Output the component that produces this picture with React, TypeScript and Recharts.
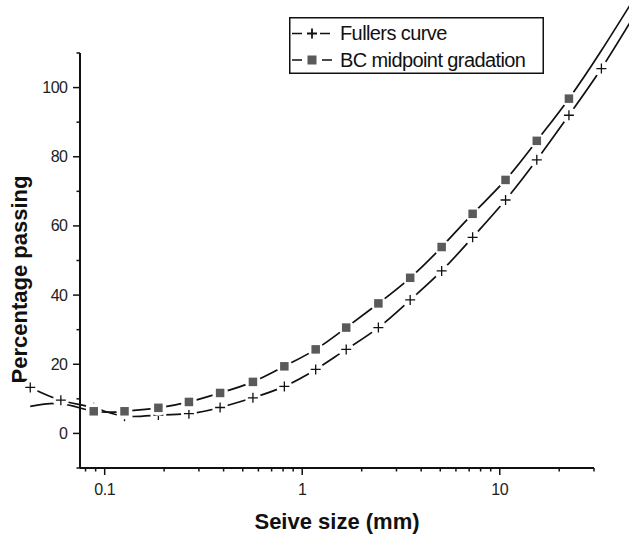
import { LineChart, Line, XAxis, YAxis, Legend, Label } from 'recharts';

// sieve sizes (mm)
const sieveSizes = [0.042, 0.06, 0.088, 0.126, 0.187, 0.267, 0.384, 0.563, 0.812, 1.17, 1.67, 2.43, 3.52, 5.08, 7.29, 10.7, 15.4, 22.4, 32.7, 47];
const fullersCurve = [13.3, 9.6, 7.4, 5.0, 5.3, 5.7, 7.5, 10.3, 13.6, 18.5, 24.3, 30.6, 38.6, 47.0, 56.7, 67.5, 79.1, 92.0, 105.5, 120];
const bcMidpoint = [7.8, 8.6, 6.4, 6.4, 7.4, 9.1, 11.7, 14.9, 19.4, 24.3, 30.6, 37.6, 45.0, 53.9, 63.5, 73.3, 84.6, 96.8, 110.7, 125];
// which points carry a marker (the rest only continue the curve)
const fullersMarked = [true, true, true, true, true, true, true, true, true, true, true, true, true, true, true, true, true, true, true, false];
const bcMarked = [false, false, true, true, true, true, true, true, true, true, true, true, true, true, true, true, true, true, false, false];

const seriesNames = ['Fullers curve', 'BC midpoint gradation'];
const majorXTicks = [0.1, 1, 10];
const xTicks = [0.08, 0.09, 0.1, 0.2, 0.3, 0.4, 0.5, 0.6, 0.7, 0.8, 0.9, 1, 2, 3, 4, 5, 6, 7, 8, 9, 10, 20, 30];
const yTicks = [-10, 0, 10, 20, 30, 40, 50, 60, 70, 80, 90, 100, 110];

const fullersData = sieveSizes.map((x, i) => ({ x, y: fullersCurve[i], marked: fullersMarked[i] }));
const bcData = sieveSizes.map((x, i) => ({ x, y: bcMidpoint[i], marked: bcMarked[i] }));

const FONT = "'Liberation Sans', Arial, sans-serif";
const INK = '#111';
const GREY = '#5a5a5a';

// Origin-style markers: a white halo breaks the line around each point
const PlusDot = (props: any) => {
	const { cx, cy, payload, index } = props;
	if (!payload?.marked || cx == null) return <g key={`f-${index}`} />;
	return (
		<g key={`f-${index}`}>
			<circle cx={cx} cy={cy} r={8} fill="#fff" stroke="none" />
			<path d={`M${cx - 5},${cy}H${cx + 5}M${cx},${cy - 5}V${cy + 5}`} stroke={INK} strokeWidth={1.3} fill="none" />
		</g>
	);
};

const SquareDot = (props: any) => {
	const { cx, cy, payload, index } = props;
	if (!payload?.marked || cx == null) return <g key={`b-${index}`} />;
	return (
		<g key={`b-${index}`}>
			<circle cx={cx} cy={cy} r={8} fill="#fff" stroke="none" />
			<rect x={cx - 4.25} y={cy - 4.25} width={8.5} height={8.5} fill={GREY} stroke="none" />
		</g>
	);
};

const XTick = (props: any) => {
	const { x, y, payload } = props;
	const major = majorXTicks.includes(payload.value);
	return (
		<g>
			<line x1={x} x2={x} y1={y} y2={y + (major ? 7 : 3.5)} stroke={INK} strokeWidth={1.5} />
			{major && (
				<text x={x} y={y + 27} textAnchor="middle" fontFamily={FONT} fontSize={16} letterSpacing={-0.5} fill="#222">
					{payload.value}
				</text>
			)}
		</g>
	);
};

const YTick = (props: any) => {
	const { x, y, payload } = props;
	const major = payload.value % 20 === 0 && payload.value >= 0 && payload.value <= 100;
	return (
		<g>
			<line x1={x - (major ? 7 : 3.5)} x2={x} y1={y} y2={y} stroke={INK} strokeWidth={1.5} />
			{major && (
				<text x={x - 12.5} y={y + 5.5} textAnchor="end" fontFamily={FONT} fontSize={16} letterSpacing={-0.5} fill="#222">
					{payload.value}
				</text>
			)}
		</g>
	);
};

const XTitle = ({ viewBox }: any) => (
	<text x={viewBox.x + viewBox.width / 2} y={viewBox.y + 61} textAnchor="middle" fontFamily={FONT} fontSize={22} fontWeight="bold" fill={INK}>
		Seive size (mm)
	</text>
);

const YTitle = ({ viewBox }: any) => {
	const cx = viewBox.x + 27;
	const cy = viewBox.y + viewBox.height / 2 + 19;
	return (
		<text x={cx} y={cy} transform={`rotate(-90 ${cx} ${cy})`} textAnchor="middle" fontFamily={FONT} fontSize={22} fontWeight="bold" fill={INK}>
			Percentage passing
		</text>
	);
};

const LegendBox = () => (
	<svg width={255} height={57} style={{ display: 'block' }}>
		<rect x={0.75} y={0.75} width={253.5} height={55.5} fill="#fff" stroke={INK} strokeWidth={1.5} />
		<path d="M3,16.5H13M31,16.5H41" stroke={INK} strokeWidth={1.5} />
		<path d="M18,16.5H28M23,11.5V21.5" stroke={INK} strokeWidth={1.8} />
		<path d="M3,43H13M33,43H43" stroke={INK} strokeWidth={1.5} />
		<rect x={18.5} y={38.5} width={9} height={9} fill={GREY} />
		<text x={51} y={23} fontFamily={FONT} fontSize={20} letterSpacing={-0.6} fill={INK}>{seriesNames[0]}</text>
		<text x={51} y={50} fontFamily={FONT} fontSize={20} letterSpacing={-0.6} fill={INK}>{seriesNames[1]}</text>
	</svg>
);

export default function App() {
	return (
		<div>
			<style>{`body{margin:0} .recharts-surface [clip-path]{clip-path:none}`}</style>
			<LineChart width={629} height={536} margin={{ top: 53, right: 35, bottom: 0, left: 0 }}>
				<XAxis
					dataKey="x"
					type="number"
					scale="log"
					domain={[0.075, 30]}
					allowDataOverflow
					ticks={xTicks}
					interval={0}
					tickSize={0}
					tickMargin={0}
					tickLine={false}
					tick={<XTick />}
					axisLine={{ stroke: INK, strokeWidth: 2 }}
					height={68}>
					<Label content={XTitle} />
				</XAxis>
				<YAxis
					type="number"
					domain={[-10, 110]}
					allowDataOverflow
					ticks={yTicks}
					interval={0}
					tickSize={0}
					tickMargin={0}
					tickLine={false}
					tick={<YTick />}
					axisLine={{ stroke: INK, strokeWidth: 2 }}
					width={80}>
					<Label content={YTitle} />
				</YAxis>
				{/* curves first, then the markers on top so their halos cut the lines */}
				<Line data={fullersData} dataKey="y" name={seriesNames[0]} type="natural" stroke={INK} strokeWidth={1.7} dot={false} activeDot={false} isAnimationActive={false} />
				<Line data={bcData} dataKey="y" name={seriesNames[1]} type="natural" stroke={INK} strokeWidth={1.7} dot={false} activeDot={false} isAnimationActive={false} />
				<Line data={fullersData} dataKey="y" legendType="none" type="natural" stroke="none" dot={PlusDot} activeDot={false} isAnimationActive={false} />
				<Line data={bcData} dataKey="y" legendType="none" type="natural" stroke="none" dot={SquareDot} activeDot={false} isAnimationActive={false} />
				<Legend
					content={LegendBox}
					layout="vertical"
					align="center"
					verticalAlign="middle"
					wrapperStyle={{ left: 289, top: 17, width: 255, height: 57 }}
				/>
			</LineChart>
		</div>
	);
}
